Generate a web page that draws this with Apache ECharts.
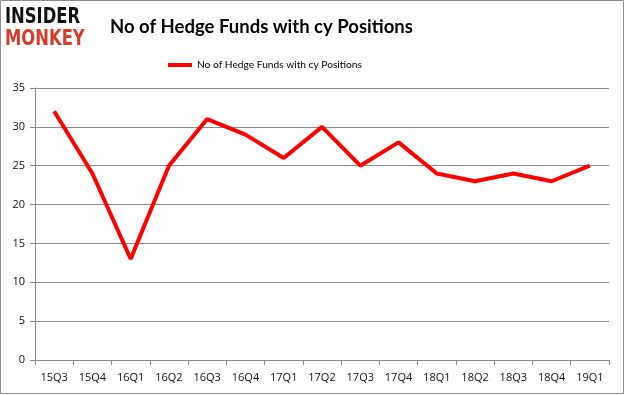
<!DOCTYPE html>
<html><head><meta charset="utf-8">
<script src="https://cdn.jsdelivr.net/npm/echarts@6/dist/echarts.min.js"></script>
<style>html,body{margin:0;padding:0;background:#fff}#c{width:625px;height:395px}</style>
</head><body><div id="c"></div>
<script>
const categories = ['15Q3','15Q4','16Q1','16Q2','16Q3','16Q4','17Q1','17Q2','17Q3','17Q4','18Q1','18Q2','18Q3','18Q4','19Q1'];
const fundCounts = [32,24,13,25,31,29,26,30,25,28,24,23,24,23,25];
const seriesName = 'No of Hedge Funds with cy Positions';
const titleText = 'No of Hedge Funds with cy Positions';

const chart = echarts.init(document.getElementById('c'), null, {renderer:'canvas'});
chart.setOption({
  animation:false,
  backgroundColor:'#fff',
  title:{text:titleText,left:105,top:13,padding:5,textStyle:{fontFamily:'Lato',fontWeight:'bold',fontSize:18.5,color:'#000'}},
  legend:{top:55,left:163,itemWidth:24,itemHeight:4,itemGap:1,icon:'rect',
    textStyle:{fontFamily:'Lato',fontSize:10.2,color:'#000'},data:[seriesName]},
  graphic:[
    {type:'rect',shape:{x:0.5,y:0.5,width:623,height:393},style:{fill:'none',stroke:'#8c8c8c',lineWidth:1}},
    {type:'text',x:5,y:7,scaleX:0.78,style:{text:'INSIDER',font:'900 21px "DejaVu Sans"',fill:'#111'}},
    {type:'text',x:5,y:29,scaleX:0.78,style:{text:'MONKEY',font:'900 21px "DejaVu Sans"',fill:'#d43d2a'}}
  ],
  grid:{left:35,right:16,top:88,bottom:35},
  xAxis:{type:'category',data:categories,boundaryGap:true,
    axisLine:{lineStyle:{color:'#888'}},
    axisTick:{show:true,length:5,lineStyle:{color:'#888'},alignWithLabel:false},
    axisLabel:{color:'#111',fontFamily:'Open Sans',fontSize:11,margin:12}},
  yAxis:{type:'value',min:0,max:35,interval:5,
    axisLine:{show:true,lineStyle:{color:'#888'}},
    axisTick:{show:true,length:5,lineStyle:{color:'#888'}},
    splitLine:{lineStyle:{color:'#8c8c8c'}},
    axisLabel:{color:'#111',fontFamily:'Open Sans',fontSize:11,margin:10}},
  series:[{name:seriesName,type:'line',data:fundCounts,symbol:'none',
    lineStyle:{color:'#ff0000',width:4},itemStyle:{color:'#ff0000'}}]
});
</script></body></html>
